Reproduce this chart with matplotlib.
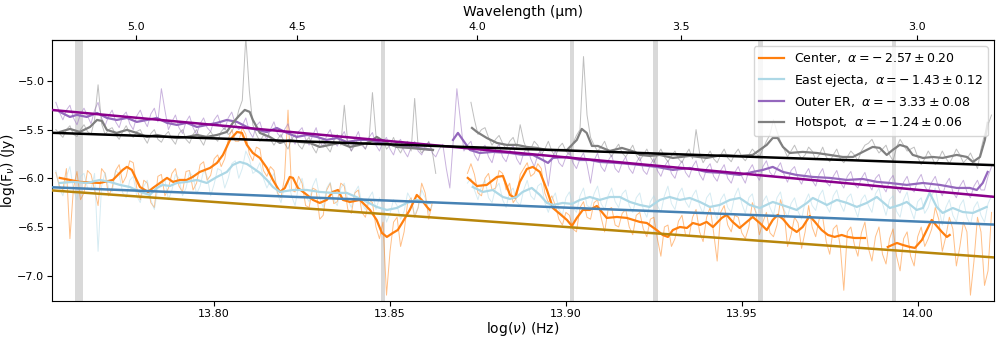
import numpy as np
import matplotlib
matplotlib.use("Agg")
import matplotlib.pyplot as plt
from matplotlib.ticker import FormatStrFormatter

nan = float("nan")

# ---------------- data ----------------
labels = ["Center", "East ejecta", "Outer ER", "Hotspot"]
alpha_vals = [-2.57, -1.43, -3.33, -1.24]
alpha_errs = [0.20, 0.12, 0.08, 0.06]
fit_pivot = 13.888
fit_at_pivot = [-6.469, -6.284, -5.745, -5.699]

series_colors = ["#ff7f0e", "#add8e6", "#9467bd", "#7f7f7f"]
fit_colors = ["darkgoldenrod", "steelblue", "darkmagenta", "black"]

# masked (gray) regions in log(nu)
band_lo = [13.7604, 13.8474, 13.9011, 13.9247, 13.9545, 13.9926]
band_hi = [13.7627, 13.8487, 13.9022, 13.9262, 13.9559, 13.9937]

# raw spectra sampled on a regular log(nu) grid
raw_x0, raw_step, raw_n = 13.755, 0.001, 267

center_raw = [
    -5.94, -6.08, -6.12, -5.90, -6.62, -6.10, -5.93, -6.22, -6.15, -5.92,
    -5.96, -6.12, -6.28, -5.90, -5.95, -6.18, -6.10, -5.92, -5.86, -6.05,
    -5.98, -5.82, -5.84, -6.10, -6.22, -6.02, -6.05, -6.25, -6.30, -5.98,
    -5.96, -6.18, -6.10, -5.95, -5.90, -6.08, -6.14, -5.93, -5.92, -6.12,
    -6.05, -5.86, -5.83, -6.02, -5.97, -5.80, -5.76, -5.88, -5.80, -5.60,
    -5.50, -5.62, -5.62, -5.48, -5.55, -5.75, -5.82, -5.68, -5.70, -5.92,
    -5.98, -5.88, -5.92, -6.15, -6.20, -6.00, -5.30, -6.12, -6.14, -5.98,
    -6.05, -6.28, -6.30, -6.10, -6.12, -6.42, -6.38, -6.12, -6.05, -6.26,
    -6.24, -6.05, -6.08, -6.32, -6.36, -6.15, -6.12, -6.35, -6.40, -6.22,
    -6.25, -6.50, -6.62, -6.45, -7.20, -6.75, -6.45, -6.40, -6.70, -6.55,
    -6.25, -6.20, -6.40, -6.30, -6.05, -6.15, -6.42, -6.25, nan, nan,
    nan, nan, nan, nan, nan, nan, nan, -5.95, -5.85, -5.96,
    -6.15, -6.18, -6.00, -5.95, -6.12, -6.10, -5.92, -5.95, -6.12, -6.05,
    -6.25, -6.20, -5.96, -5.90, -5.84, -5.98, -5.95, -5.85, -5.90, -6.15,
    -6.25, -6.18, -6.28, -6.42, -6.48, -6.35, -6.38, -6.52, -6.55, -6.30,
    -6.24, -6.40, -6.42, -6.25, -6.22, -6.40, -6.55, -6.32, -6.30, -6.48,
    -6.50, -6.36, -6.32, -6.50, -6.58, -6.38, -6.35, -6.52, -6.60, -6.42,
    -6.40, -6.62, -6.80, -6.50, -6.48, -6.70, -6.62, -6.44, -6.38, -6.58,
    -6.60, -6.40, -6.32, -6.55, -6.65, -6.40, -6.30, -6.56, -6.85, -6.35,
    -6.28, -6.48, -6.55, -6.38, -6.40, -6.56, -6.62, -6.50, -6.25, -6.35,
    -6.58, -6.45, -6.35, -6.56, -6.60, -6.48, -6.22, -6.34, -6.70, -6.58,
    -6.40, -6.46, -6.72, -6.55, -6.28, -6.50, -6.60, -6.42, -6.40, -6.65,
    -6.78, -6.52, -6.48, -6.70, -7.15, -6.55, -6.50, -6.68, -6.80, -6.56,
    -6.45, -6.72, -6.85, -6.60, -6.50, -6.78, -6.88, -6.62, -6.52, -6.80,
    -6.95, -6.62, -6.55, -6.80, -6.90, -6.60, -6.50, -6.70, -6.62, -6.52,
    -6.30, -6.42, -6.75, -6.60, -6.40, -6.52, -6.90, -6.70, -6.45, -6.55,
    -7.20, -6.85, -6.40, -6.55, -7.10, -6.95, -6.35,
]
east_raw = [
    -5.92, -6.10, -6.18, -5.98, -5.88, -6.12, -6.22, -5.98, -5.95, -6.10,
    -6.12, -5.95, -6.75, -6.08, -5.94, -6.10, -6.14, -5.92, -5.96, -6.15,
    -6.20, -6.02, -5.98, -6.18, -6.25, -6.08, -6.02, -6.22, -6.32, -6.10,
    -6.05, -6.02, -6.22, -6.12, -5.96, -6.00, -6.18, -6.10, -5.94, -5.98,
    -6.16, -6.08, -5.92, -5.98, -6.18, -6.06, -5.90, -5.92, -6.10, -6.00,
    -5.85, -5.82, -6.00, -5.90, -5.72, -5.80, -5.95, -5.92, -5.84, -6.00,
    -6.10, -6.02, -5.95, -6.16, -6.25, -6.08, -6.02, -6.18, -6.28, -6.08,
    -6.00, -6.18, -6.24, -6.08, -6.00, -6.20, -6.30, -6.10, -6.04, -6.22,
    -6.28, -6.10, -6.05, -6.22, -6.30, -6.14, -6.08, -6.26, -6.32, -6.20,
    -6.14, -6.32, -6.20, -6.28, -6.45, -6.36, -6.22, -6.28, -6.42, -6.34,
    -6.15, -6.22, -6.38, -6.30, -6.12, -6.20, -6.35, -6.28, nan, nan,
    nan, nan, nan, nan, nan, nan, nan, -6.05, -6.00, -6.12,
    -6.22, -6.08, -6.02, -6.20, -6.25, -6.10, -6.05, -6.22, -6.30, -6.14,
    -6.10, -6.24, -6.28, -6.12, -6.02, -6.18, -6.22, -6.08, -6.05, -6.25,
    -6.35, -6.22, -6.15, -6.32, -6.38, -6.20, -6.14, -6.30, -6.35, -6.18,
    -6.10, -6.28, -6.30, -6.16, -6.08, -6.26, -6.32, -6.18, -6.10, -6.24,
    -6.30, -6.16, -6.12, -6.28, -6.35, -6.20, -6.15, -6.32, -6.40, -6.24,
    -6.18, -6.28, -6.35, -6.18, -6.08, -6.26, -6.32, -6.16, -6.10, -6.24,
    -6.30, -6.18, -6.12, -6.28, -6.36, -6.20, -6.15, -6.32, -6.42, -6.22,
    -6.16, -6.30, -6.35, -6.18, -6.10, -6.26, -6.36, -6.20, -6.16, -6.34,
    -6.42, -6.24, -6.18, -6.30, -6.38, -6.20, -6.14, -6.32, -6.40, -6.26,
    -6.20, -6.34, -6.42, -6.24, -6.16, -6.28, -6.33, -6.18, -6.12, -6.28,
    -6.35, -6.18, -6.12, -6.26, -6.34, -6.20, -6.16, -6.30, -6.40, -6.22,
    -6.17, -6.28, -6.35, -6.16, -6.10, -6.26, -6.38, -6.22, -6.18, -6.34,
    -6.40, -6.22, -6.14, -6.32, -6.42, -6.24, -6.20, -6.36, -6.30, -6.18,
    -6.10, -6.30, -6.48, -6.30, -6.22, -6.38, -6.45, -6.28, -6.22, -6.40,
    -6.48, -6.30, -6.24, -6.38, -6.45, -6.26, -6.18,
]
outer_raw = [
    -5.22, -5.32, -5.40, -5.30, -5.25, -5.38, -5.45, -5.34, -5.28, -5.36,
    -5.44, -5.30, -5.22, -5.38, -5.46, -5.36, -5.30, -5.42, -5.48, -5.36,
    -5.32, -5.44, -5.50, -5.36, -5.30, -5.40, -5.47, -5.34, -5.28, -5.42,
    -5.08, -5.30, -5.50, -5.42, -5.35, -5.48, -5.54, -5.42, -5.36, -5.48,
    -5.55, -5.44, -5.38, -5.48, -5.52, -5.40, -5.35, -5.46, -5.50, -5.38,
    -5.32, -5.44, -5.50, -5.46, -5.38, -5.52, -5.58, -5.46, -5.42, -5.54,
    -5.60, -5.50, -5.42, -5.54, -5.58, -5.50, -5.44, -5.58, -5.65, -5.52,
    -5.48, -5.60, -5.66, -5.56, -5.48, -5.62, -5.68, -5.56, -5.50, -5.62,
    -5.67, -5.58, -5.52, -5.64, -5.72, -5.60, -5.52, -5.66, -5.70, -5.58,
    -5.53, -5.66, -5.72, -5.62, -5.58, -5.70, -5.76, -5.64, -5.60, -5.72,
    -5.78, -5.68, -5.62, -5.72, -5.76, -5.66, -5.63, -5.74, -5.78, -5.70,
    -5.65, -5.90, -6.10, -5.60, -5.08, -5.40, -5.72, -5.66, -5.62, -5.76,
    -5.82, -5.70, -5.66, -5.78, -5.84, -5.70, -5.65, -5.78, -5.83, -5.72,
    -5.66, -5.80, -5.86, -5.74, -5.68, -5.80, -5.88, -5.76, -5.70, -5.86,
    -6.08, -5.80, -5.72, -5.84, -5.88, -5.78, -5.72, -5.84, -5.90, -5.80,
    -5.74, -5.86, -6.05, -5.82, -5.74, -5.88, -5.93, -5.82, -5.76, -5.90,
    -5.94, -5.84, -5.78, -5.90, -5.95, -5.84, -5.78, -5.92, -5.96, -5.86,
    -5.80, -5.92, -5.98, -5.88, -5.82, -5.95, -6.00, -5.88, -5.82, -5.94,
    -5.99, -5.88, -5.82, -5.96, -6.02, -5.90, -5.85, -5.98, -6.03, -5.92,
    -5.86, -6.00, -6.05, -5.94, -5.88, -5.98, -6.05, -5.92, -5.86, -5.96,
    -6.02, -5.88, -5.82, -5.94, -5.98, -5.90, -5.84, -5.96, -6.04, -5.92,
    -5.88, -6.00, -6.06, -5.96, -5.90, -6.02, -6.08, -5.96, -5.90, -6.04,
    -6.08, -5.98, -5.92, -6.04, -6.10, -5.98, -5.93, -6.06, -6.10, -6.00,
    -5.94, -6.06, -6.12, -6.00, -5.96, -6.08, -6.14, -6.02, -5.97, -6.10,
    -6.15, -6.04, -5.98, -6.10, -6.14, -6.02, -5.96, -6.08, -6.14, -6.04,
    -5.98, -6.10, -6.18, -6.06, -6.00, -6.14, -6.20, -6.08, -6.02, -6.14,
    -6.20, -6.08, -6.02, -6.12, -6.12, -5.98, -5.88,
]
hotspot_raw = [
    -5.50, -5.54, -5.58, -5.50, -5.46, -5.55, -5.57, -5.50, -5.45, -5.52,
    -5.55, -5.40, -5.04, -5.44, -5.55, -5.50, -5.48, -5.55, -5.60, -5.52,
    -5.46, -5.54, -5.58, -5.52, -5.50, -5.58, -5.64, -5.54, -5.50, -5.60,
    -5.63, -5.56, -5.52, -5.60, -5.65, -5.54, -5.50, -5.60, -5.64, -5.55,
    -5.50, -5.60, -5.66, -5.56, -5.52, -5.58, -5.62, -5.52, -5.48, -5.55,
    -5.52, -5.45, -5.30, -5.20, -4.55, -5.10, -5.45, -5.55, -5.62, -5.56,
    -5.50, -5.60, -5.66, -5.60, -5.55, -5.64, -5.70, -5.60, -5.55, -5.66,
    -5.70, -5.62, -5.58, -5.68, -5.74, -5.64, -5.60, -5.68, -5.73, -5.62,
    -5.55, -5.66, -5.25, -5.64, -5.72, -5.66, -5.58, -5.64, -5.70, -5.62,
    -5.12, -5.56, -5.62, -5.60, -5.70, -5.66, -5.58, -5.68, -5.74, -5.66,
    -5.62, -5.72, -5.18, -5.68, -5.74, -5.70, -5.62, -5.72, -5.95, nan,
    nan, nan, nan, nan, nan, nan, nan, nan, -5.22, -5.40,
    -5.55, -5.50, -5.48, -5.58, -5.66, -5.60, -5.56, -5.64, -5.70, -5.62,
    -5.58, -5.68, -5.45, -5.62, -5.72, -5.70, -5.62, -5.66, -5.76, -5.70,
    -5.62, -5.72, -5.78, -5.68, -5.64, -5.72, -5.76, -5.64, -5.56, -5.50,
    -4.75, -5.35, -5.58, -5.66, -5.72, -5.68, -5.62, -5.72, -5.78, -5.70,
    -5.65, -5.74, -5.78, -5.72, -5.66, -5.76, -5.82, -5.76, -5.70, -5.78,
    -5.84, -5.76, -5.70, -5.78, -5.83, -5.77, -5.72, -5.80, -5.84, -5.76,
    -5.70, -5.80, -5.50, -5.74, -5.84, -5.78, -5.72, -5.80, -5.84, -5.76,
    -5.70, -5.79, -5.83, -5.75, -5.70, -5.78, -5.82, -5.76, -5.70, -5.74,
    -5.78, -5.70, -5.62, -5.55, -5.40, -5.52, -5.62, -5.70, -5.78, -5.72,
    -5.66, -5.74, -5.80, -5.76, -5.68, -5.72, -5.81, -5.76, -5.68, -5.78,
    -5.83, -5.76, -5.70, -5.80, -5.84, -5.78, -5.72, -5.76, -5.82, -5.72,
    -5.66, -5.64, -5.60, -5.68, -5.74, -5.70, -5.66, -5.76, -5.82, -5.68,
    -5.60, -5.66, -5.72, -5.70, -5.68, -5.78, -5.86, -5.80, -5.72, -5.78,
    -5.86, -5.80, -5.72, -5.79, -5.85, -5.78, -5.70, -5.76, -5.84, -5.80,
    -5.74, -5.82, -5.90, -5.70, -5.55, -5.45, -5.35,
]

# smoothed spectra (nan separates segments)
center_smooth_x = [
    13.7561, 13.7618, 13.7675, 13.7712, 13.7740, 13.7752, 13.7766, 13.7789, 13.7812, 13.7826,
    13.7846, 13.7866, 13.7883, 13.7903, 13.7922, 13.7939, 13.7959, 13.7988, 13.8008, 13.8025,
    13.8045, 13.8065, 13.8079, 13.8093, 13.8110, 13.8130, 13.8150, 13.8167, 13.8187, 13.8201,
    13.8215, 13.8224, 13.8238, 13.8264, 13.8281, 13.8300, 13.8320, 13.8337, 13.8352, 13.8366,
    13.8386, 13.8414, 13.8423, 13.8443, 13.8462, 13.8477, 13.8491, 13.8508, 13.8522, 13.8536,
    13.8556, 13.8576, 13.8590, 13.8605, 13.8613, nan,
    13.8721, 13.8747, 13.8775, 13.8804, 13.8821, 13.8841, 13.8855, 13.8869, 13.8889, 13.8906,
    13.8926, 13.8946, 13.8963, 13.8983, 13.9003, 13.9017, 13.9031, 13.9048, 13.9068, 13.9088,
    13.9116, 13.9145, 13.9173, 13.9210, 13.9230, 13.9258, 13.9275, 13.9290, 13.9304, 13.9324,
    13.9344, 13.9361, 13.9381, 13.9400, 13.9418, 13.9443, 13.9457, 13.9474, 13.9494, 13.9514,
    13.9531, 13.9551, 13.9571, 13.9588, 13.9602, 13.9617, 13.9636, 13.9656, 13.9673, 13.9693,
    13.9708, 13.9727, 13.9745, 13.9764, 13.9784, 13.9801, 13.9821, 13.9850, nan,
    13.9915, 13.9941, 13.9958, 13.9978, 13.9992, 14.0012, 14.0026, 14.0040, 14.0054, 14.0069,
    14.0083, 14.0091,
]
center_smooth_y = [
    -5.996, -6.037, -6.048, -6.017, -5.914, -5.883, -5.914, -6.089, -6.140, -6.099,
    -6.048, -5.996, -6.037, -6.017, -6.017, -5.986, -5.935, -5.894, -5.842, -5.760,
    -5.606, -5.524, -5.534, -5.657, -5.740, -5.791, -5.894, -6.017, -6.140, -6.099,
    -5.986, -5.996, -6.099, -6.171, -6.222, -6.253, -6.222, -6.140, -6.120, -6.222,
    -6.243, -6.222, -6.253, -6.325, -6.428, -6.561, -6.602, -6.561, -6.531, -6.448,
    -6.325, -6.171, -6.222, -6.294, -6.325, nan,
    -5.996, -6.079, -6.068, -5.986, -5.976, -6.171, -6.202, -6.037, -5.904, -5.883,
    -5.935, -6.120, -6.305, -6.366, -6.428, -6.489, -6.407, -6.325, -6.325, -6.284,
    -6.407, -6.397, -6.407, -6.448, -6.459, -6.531, -6.582, -6.602, -6.531, -6.500,
    -6.510, -6.459, -6.479, -6.448, -6.500, -6.407, -6.376, -6.448, -6.510, -6.448,
    -6.397, -6.459, -6.531, -6.428, -6.376, -6.418, -6.500, -6.551, -6.500, -6.387,
    -6.448, -6.531, -6.582, -6.602, -6.582, -6.602, -6.613, -6.613, nan,
    -6.705, -6.664, -6.685, -6.705, -6.715, -6.633, -6.531, -6.428, -6.489, -6.551,
    -6.602, -6.582,
]

east_smooth_x = [
    13.7561, 13.7598, 13.7638, 13.7675, 13.7703, 13.7732, 13.7760, 13.7789, 13.7817, 13.7837,
    13.7854, 13.7874, 13.7894, 13.7922, 13.7951, 13.7979, 13.8008, 13.8036, 13.8053, 13.8073,
    13.8093, 13.8110, 13.8130, 13.8150, 13.8167, 13.8187, 13.8224, 13.8264, 13.8300, 13.8337,
    13.8377, 13.8423, 13.8462, 13.8491, 13.8519, 13.8548, 13.8576, 13.8605, 13.8613, nan,
    13.8735, 13.8764, 13.8792, 13.8821, 13.8841, 13.8860, 13.8877, 13.8903, 13.8926, 13.8946,
    13.8963, 13.8991, 13.9017, 13.9040, 13.9068, 13.9096, 13.9125, 13.9153, 13.9182, 13.9210,
    13.9238, 13.9267, 13.9295, 13.9324, 13.9352, 13.9381, 13.9409, 13.9437, 13.9466, 13.9494,
    13.9523, 13.9551, 13.9588, 13.9631, 13.9656, 13.9685, 13.9702, 13.9742, 13.9770, 13.9799,
    13.9827, 13.9855, 13.9884, 13.9921, 13.9949, 13.9969, 13.9997, 14.0015, 14.0034, 14.0054,
    14.0071, 14.0100, 14.0128, 14.0157, 14.0196,
]
east_smooth_y = [
    -6.048, -6.037, -6.048, -6.017, -6.037, -6.068, -6.089, -6.140, -6.171, -6.099,
    -6.068, -6.079, -6.048, -6.037, -6.017, -6.048, -5.986, -5.935, -5.863, -5.832,
    -5.853, -5.894, -5.945, -6.017, -6.089, -6.140, -6.120, -6.120, -6.140, -6.150,
    -6.150, -6.222, -6.294, -6.325, -6.305, -6.253, -6.222, -6.253, -6.253, nan,
    -6.089, -6.140, -6.120, -6.192, -6.212, -6.192, -6.140, -6.099, -6.171, -6.253,
    -6.274, -6.253, -6.263, -6.222, -6.192, -6.222, -6.192, -6.192, -6.243, -6.274,
    -6.294, -6.222, -6.192, -6.222, -6.202, -6.243, -6.294, -6.274, -6.222, -6.202,
    -6.274, -6.305, -6.243, -6.294, -6.325, -6.253, -6.202, -6.274, -6.222, -6.253,
    -6.294, -6.253, -6.192, -6.305, -6.274, -6.243, -6.325, -6.305, -6.150, -6.294,
    -6.356, -6.305, -6.346, -6.356, -6.294,
]

outer_smooth_x = [
    13.7561, 13.7590, 13.7610, 13.7638, 13.7667, 13.7695, 13.7723, 13.7752, 13.7780, 13.7809,
    13.7837, 13.7866, 13.7894, 13.7922, 13.7951, 13.7979, 13.8008, 13.8036, 13.8065, 13.8093,
    13.8121, 13.8150, 13.8178, 13.8207, 13.8235, 13.8264, 13.8292, 13.8320, 13.8349, 13.8377,
    13.8414, 13.8434, 13.8480, 13.8528, 13.8576, 13.8622, nan,
    13.8679, 13.8693, 13.8707, 13.8727, 13.8755, 13.8792, 13.8841, 13.8877, 13.8906, 13.8934,
    13.8949, 13.8963, 13.9003, 13.9040, 13.9068, 13.9096, 13.9145, 13.9182, 13.9210, 13.9258,
    13.9304, 13.9352, 13.9400, 13.9446, 13.9494, 13.9531, 13.9560, 13.9588, 13.9617, 13.9656,
    13.9702, 13.9750, 13.9799, 13.9844, 13.9884, 13.9921, 13.9969, 14.0015, 14.0063, 14.0111,
    14.0148, 14.0168, 14.0185, 14.0199,
]
outer_smooth_y = [
    -5.318, -5.370, -5.349, -5.370, -5.329, -5.380, -5.401, -5.380, -5.421, -5.401,
    -5.380, -5.431, -5.452, -5.431, -5.473, -5.452, -5.431, -5.401, -5.421, -5.473,
    -5.503, -5.524, -5.483, -5.534, -5.575, -5.555, -5.575, -5.606, -5.586, -5.627,
    -5.606, -5.606, -5.637, -5.678, -5.688, -5.709, nan,
    -5.606, -5.534, -5.606, -5.709, -5.740, -5.729, -5.740, -5.760, -5.760, -5.812,
    -5.842, -5.791, -5.781, -5.812, -5.812, -5.832, -5.842, -5.853, -5.863, -5.883,
    -5.914, -5.894, -5.935, -5.945, -5.966, -5.935, -5.914, -5.883, -5.935, -5.966,
    -5.986, -5.996, -6.017, -6.007, -6.037, -6.048, -6.068, -6.048, -6.068, -6.099,
    -6.099, -6.120, -6.048, -5.935,
]

hotspot_smooth_x = [
    13.7561, 13.7590, 13.7618, 13.7647, 13.7667, 13.7681, 13.7695, 13.7723, 13.7752, 13.7780,
    13.7809, 13.7837, 13.7866, 13.7894, 13.7922, 13.7951, 13.7979, 13.8008, 13.8036, 13.8053,
    13.8073, 13.8087, 13.8101, 13.8110, 13.8130, 13.8158, 13.8187, 13.8215, 13.8244, 13.8272,
    13.8300, 13.8329, 13.8357, 13.8386, 13.8414, 13.8443, 13.8462, 13.8491, 13.8519, 13.8556,
    13.8585, 13.8622, nan,
    13.8733, 13.8747, 13.8775, 13.8804, 13.8832, 13.8860, 13.8889, 13.8917, 13.8946, 13.8974,
    13.9003, 13.9031, 13.9045, 13.9059, 13.9074, 13.9091, 13.9125, 13.9159, 13.9196, 13.9210,
    13.9238, 13.9267, 13.9304, 13.9352, 13.9400, 13.9446, 13.9494, 13.9531, 13.9571, 13.9588,
    13.9602, 13.9617, 13.9636, 13.9673, 13.9713, 13.9750, 13.9787, 13.9816, 13.9844, 13.9872,
    13.9892, 13.9912, 13.9929, 13.9949, 13.9969, 13.9986, 14.0015, 14.0043, 14.0071, 14.0111,
    14.0140, 14.0157, 14.0177, 14.0191, 14.0199,
]
hotspot_smooth_y = [
    -5.524, -5.493, -5.524, -5.473, -5.401, -5.411, -5.503, -5.534, -5.503, -5.534,
    -5.575, -5.555, -5.575, -5.586, -5.575, -5.555, -5.575, -5.555, -5.524, -5.431,
    -5.349, -5.298, -5.318, -5.401, -5.534, -5.575, -5.637, -5.606, -5.627, -5.637,
    -5.678, -5.657, -5.637, -5.678, -5.657, -5.627, -5.575, -5.637, -5.678, -5.688,
    -5.698, -5.709, nan,
    -5.483, -5.524, -5.586, -5.637, -5.657, -5.657, -5.678, -5.688, -5.709, -5.709,
    -5.709, -5.606, -5.493, -5.534, -5.668, -5.668, -5.719, -5.688, -5.729, -5.760,
    -5.770, -5.760, -5.791, -5.770, -5.791, -5.760, -5.770, -5.760, -5.657, -5.586,
    -5.586, -5.678, -5.740, -5.729, -5.740, -5.760, -5.781, -5.781, -5.729, -5.678,
    -5.688, -5.760, -5.709, -5.657, -5.678, -5.760, -5.791, -5.781, -5.791, -5.760,
    -5.781, -5.832, -5.781, -5.606, -5.431,
]

x_limits = (13.7539, 14.0217)
y_limits = (-7.26, -4.58)
x_ticks = [13.80, 13.85, 13.90, 13.95, 14.00]
y_ticks = [-5.0, -5.5, -6.0, -6.5, -7.0]
wl_ticks = [5.0, 4.5, 4.0, 3.5, 3.0]
c_um = 2.998e14  # speed of light in micron/s

# ---------------- plot ----------------
fig = plt.figure(figsize=(9.96, 3.37), dpi=100)
ax = fig.add_axes([0.0522, 0.1068, 0.9458, 0.7745])

for lo, hi in zip(band_lo, band_hi):
    ax.axvspan(lo, hi, color="#d9d9d9", zorder=0, lw=0)

raw_x = raw_x0 + raw_step * np.arange(raw_n)
raws = [center_raw, east_raw, outer_raw, hotspot_raw]
smooth_x = [center_smooth_x, east_smooth_x, outer_smooth_x, hotspot_smooth_x]
smooth_y = [center_smooth_y, east_smooth_y, outer_smooth_y, hotspot_smooth_y]

for r, col in zip(raws, series_colors):
    ax.plot(raw_x, r, color=col, lw=0.7, alpha=0.5, zorder=1)

handles = []
for sx, sy, col, lab, a, e in zip(smooth_x, smooth_y, series_colors, labels,
                                  alpha_vals, alpha_errs):
    h, = ax.plot(sx, sy, color=col, lw=1.6, zorder=2,
                 label=r"%s,  $\alpha = -\,%.2f \pm %.2f$" % (lab, abs(a), e))
    handles.append(h)

fx = np.array(x_limits)
for a, y0, col in zip(alpha_vals, fit_at_pivot, fit_colors):
    ax.plot(fx, y0 + a * (fx - fit_pivot), color=col, lw=1.8, zorder=3)

ax.set_xlim(*x_limits)
ax.set_ylim(*y_limits)
ax.set_xticks(x_ticks)
ax.set_yticks(y_ticks)
ax.xaxis.set_major_formatter(FormatStrFormatter("%.2f"))
ax.tick_params(labelsize=8, pad=2.2)
ax.tick_params(axis="y", pad=2.0)
ax.set_xlabel(r"log($\nu$) (Hz)", fontsize=10, labelpad=1)
ax.set_ylabel(r"log(F$_\nu$) (Jy)", fontsize=10)
ax.yaxis.set_label_coords(-0.0375, 0.5)

secax = ax.secondary_xaxis("top", functions=(lambda x: c_um / 10 ** x,
                                             lambda l: np.log10(c_um / l)))
secax.set_xticks(wl_ticks)
secax.xaxis.set_major_formatter(FormatStrFormatter("%.1f"))
secax.tick_params(labelsize=8, pad=2.5)
secax.set_xlabel("Wavelength (μm)", fontsize=10, labelpad=4)

ax.legend(handles=handles, loc="upper right", fontsize=9)

fig.savefig("out.png", dpi=100)
